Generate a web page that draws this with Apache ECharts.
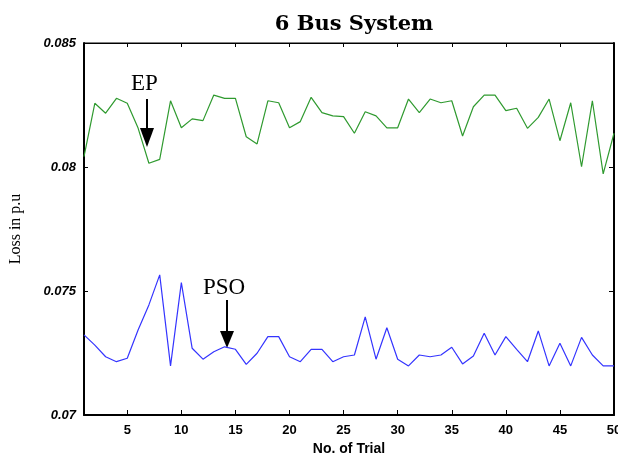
<!DOCTYPE html>
<html>
<head>
<meta charset="utf-8">
<title>6 Bus System</title>
<script src="https://cdn.jsdelivr.net/npm/echarts@6/dist/echarts.min.js"></script>
<style>
  html, body { margin: 0; padding: 0; background: #fff; }
  #chart { width: 618px; height: 457px; }
</style>
</head>
<body>
<div id="chart"></div>
<script>
// trial numbers 1..50
const trials = [];
for (let i = 1; i <= 50; i++) trials.push(i);

const xTicks = [5, 10, 15, 20, 25, 30, 35, 40, 45, 50];
const yTicks = [0.07, 0.075, 0.08, 0.085];

// loss values
const epLoss = [
  0.08042, 0.08257, 0.08217, 0.08277, 0.08257, 0.08157, 0.08015, 0.08031, 0.08267, 0.08158,
  0.08194, 0.08187, 0.0829, 0.08277, 0.08277, 0.08122, 0.08093, 0.08267, 0.08259, 0.08158,
  0.08183, 0.08281, 0.08219, 0.08206, 0.08203, 0.08136, 0.08223, 0.08206, 0.08158, 0.08158,
  0.08274, 0.08219, 0.08274, 0.08259, 0.08267, 0.08125, 0.08243, 0.0829, 0.0829, 0.08227,
  0.08237, 0.08156, 0.082, 0.08274, 0.08106, 0.08259, 0.08001, 0.08267, 0.07972, 0.08136
];
const psoLoss = [
  0.07323, 0.07282, 0.07235, 0.07215, 0.07229, 0.07343, 0.07444, 0.07565, 0.07198, 0.07534,
  0.07269, 0.07225, 0.07255, 0.07275, 0.07265, 0.07204, 0.07249, 0.07316, 0.07316, 0.07235,
  0.07215, 0.07265, 0.07265, 0.07215, 0.07235, 0.07242, 0.07396, 0.07225, 0.07352, 0.07225,
  0.07198, 0.07242, 0.07235, 0.07242, 0.07273, 0.07206, 0.07238, 0.0733, 0.07242, 0.07316,
  0.07265, 0.07215, 0.07339, 0.07198, 0.07289, 0.07198, 0.07313, 0.07242, 0.07198, 0.07198
];

const chart = echarts.init(document.getElementById('chart'));

const zip = (xs, ys) => xs.map((x, i) => [x, ys[i]]);

const option = {
  animation: false,
  backgroundColor: '#fff',
  title: {
    text: '6 Bus System',
    left: 349,
    top: 9,
    textAlign: 'center',
    textStyle: { fontFamily: 'DejaVu Serif', fontWeight: 'bold', fontSize: 21, color: '#000' }
  },
  grid: {
    left: 84, right: 4, top: 43, bottom: 42,
    outerBoundsMode: 'none',
    containLabel: false,
    show: true, borderColor: '#000', borderWidth: 1
  },
  xAxis: [{
    type: 'value',
    min: 1,
    max: 50,
    name: 'No. of Trial',
    nameLocation: 'middle',
    nameGap: 27,
    nameTextStyle: { fontFamily: 'Liberation Sans', fontWeight: 'bold', fontSize: 14, color: '#000' },
    splitLine: { show: false },
    axisLine: { lineStyle: { color: '#000', width: 2 } },
    axisTick: { inside: true, length: 5, customValues: xTicks, lineStyle: { color: '#000' } },
    axisLabel: {
      customValues: xTicks,
      margin: 9,
      fontFamily: 'Liberation Sans', fontWeight: 'bold', fontSize: 13, color: '#000'
    }
  }, {
    type: 'value',
    position: 'top',
    min: 1,
    max: 50,
    splitLine: { show: false },
    axisLine: { lineStyle: { color: '#000', width: 1 } },
    axisTick: { inside: true, length: 4, customValues: xTicks, lineStyle: { color: '#000' } },
    axisLabel: { show: false }
  }],
  yAxis: [{
    type: 'value',
    min: 0.07,
    max: 0.085,
    interval: 0.005,
    name: 'Loss in p.u',
    nameLocation: 'middle',
    nameGap: 60,
    nameTextStyle: { fontFamily: 'Liberation Serif', fontSize: 16, color: '#000' },
    splitLine: { show: false },
    axisLine: { lineStyle: { color: '#000', width: 2 } },
    axisTick: { inside: true, length: 4, lineStyle: { color: '#000' } },
    axisLabel: {
      margin: 8,
      formatter: v => String(+v.toFixed(3)),
      fontFamily: 'Liberation Sans', fontWeight: 'bold', fontStyle: 'italic', fontSize: 13, color: '#000'
    }
  }, {
    type: 'value',
    position: 'right',
    min: 0.07,
    max: 0.085,
    interval: 0.005,
    splitLine: { show: false },
    axisLine: { show: true, lineStyle: { color: '#000', width: 2 } },
    axisTick: { inside: true, length: 5, lineStyle: { color: '#000' } },
    axisLabel: { show: false }
  }],
  series: [{
    name: 'EP',
    type: 'line',
    data: zip(trials, epLoss),
    showSymbol: false,
    lineStyle: { color: '#2f9a2f', width: 1.2 },
    itemStyle: { color: '#2f9a2f' }
  }, {
    name: 'PSO',
    type: 'line',
    data: zip(trials, psoLoss),
    showSymbol: false,
    lineStyle: { color: '#3434ff', width: 1.2 },
    itemStyle: { color: '#3434ff' }
  }],
  graphic: [
    { type: 'text', left: 131, top: 72, style: { text: 'EP', fontFamily: 'Liberation Serif', fontSize: 23, fill: '#000' } },
    { type: 'line', shape: { x1: 147, y1: 99, x2: 147, y2: 130 }, style: { stroke: '#000', lineWidth: 2 } },
    { type: 'polygon', shape: { points: [[140, 128], [154, 128], [147, 147]] }, style: { fill: '#000' } },
    { type: 'text', left: 203, top: 276, style: { text: 'PSO', fontFamily: 'Liberation Serif', fontSize: 23, fill: '#000' } },
    { type: 'line', shape: { x1: 227, y1: 300, x2: 227, y2: 333 }, style: { stroke: '#000', lineWidth: 2 } },
    { type: 'polygon', shape: { points: [[220, 331], [234, 331], [227, 348]] }, style: { fill: '#000' } }
  ]
};

chart.setOption(option);
</script>
</body>
</html>
